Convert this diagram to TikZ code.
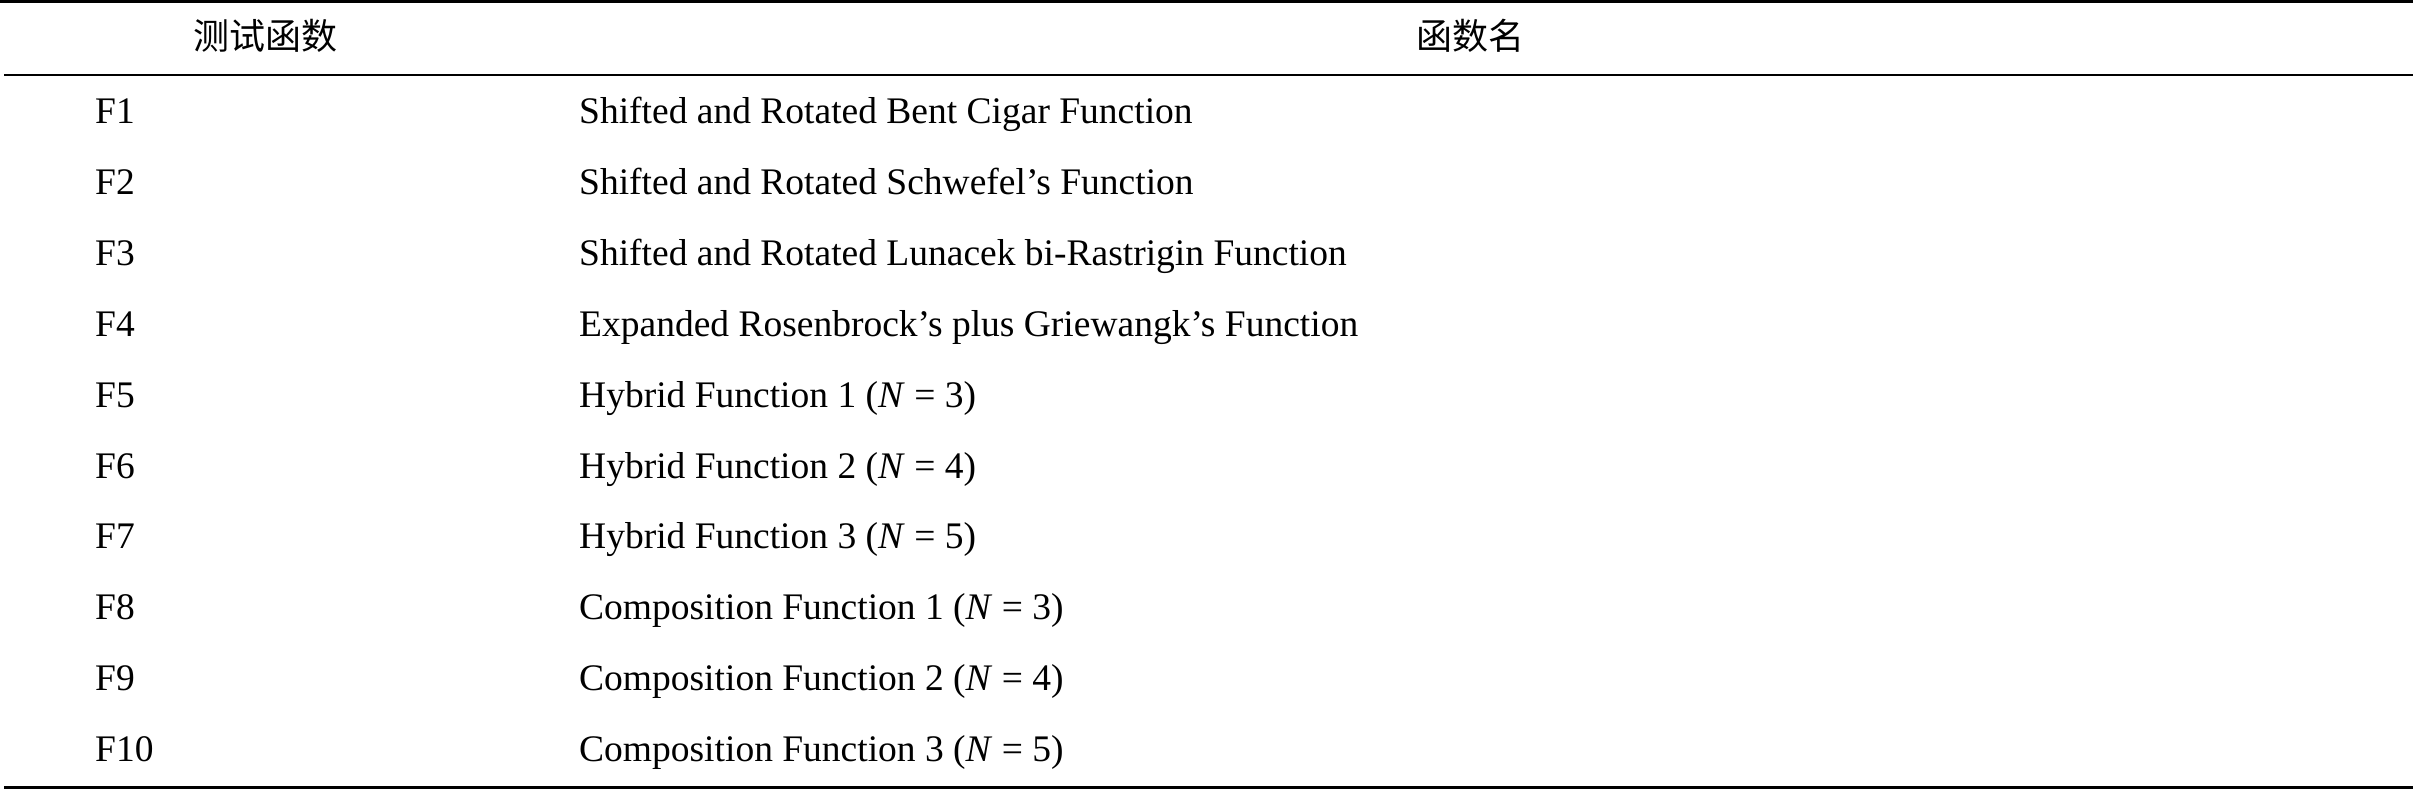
\documentclass[tikz,border=0pt]{standalone}
\usepackage{fontspec}
\setmainfont{Liberation Serif}
\newfontfamily\cjk{Noto Sans CJK SC}
\begin{document}
\begin{tikzpicture}[x=1pt,y=-1pt,
  cell/.style={anchor=base west,inner sep=0pt,font=\fontsize{37.5}{42}\selectfont},
  head/.style={anchor=base,inner sep=0pt,font=\fontsize{36}{40}\selectfont\cjk},
  rulethick/.style={line width=3pt},
  rulethin/.style={line width=2.2pt}]
\useasboundingbox (0,0) rectangle (2413,789);
\coordinate (tl) at (0,1.5); \coordinate (tr) at (2413,1.5);
\coordinate (ml) at (4,75); \coordinate (mr) at (2413,75);
\coordinate (bl) at (4,787); \coordinate (br) at (2413,787);
\draw[rulethick] (tl) -- (tr);
\draw[rulethin] (ml) -- (mr);
\draw[rulethick] (bl) -- (br);
\node[head] (h1) at (265,50) {测试函数};
\node[head] (h2) at (1470,50) {函数名};
\foreach \i/\t [count=\k from 0] in {
 F1/{Shifted and Rotated Bent Cigar Function},
 F2/{Shifted and Rotated Schwefel’s Function},
 F3/{Shifted and Rotated Lunacek bi-Rastrigin Function},
 F4/{Expanded Rosenbrock’s plus Griewangk’s Function},
 F5/{Hybrid Function 1 (\textit{N} = 3)},
 F6/{Hybrid Function 2 (\textit{N} = 4)},
 F7/{Hybrid Function 3 (\textit{N} = 5)},
 F8/{Composition Function 1 (\textit{N} = 3)},
 F9/{Composition Function 2 (\textit{N} = 4)},
 F10/{Composition Function 3 (\textit{N} = 5)}}{
  \node[cell] (c\k) at (95,{124+70.8*\k}) {\i};
  \node[cell] (n\k) at (579,{124+70.8*\k}) {\t};
}
\end{tikzpicture}
\end{document}
